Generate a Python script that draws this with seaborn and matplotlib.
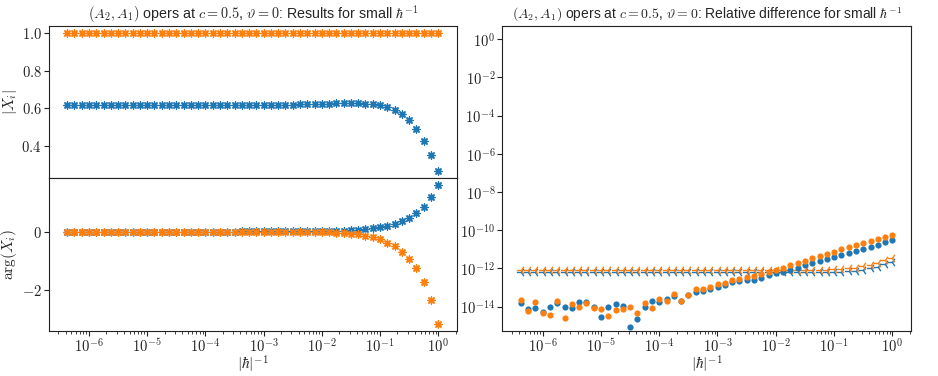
import numpy as np
import pandas as pd
import matplotlib
matplotlib.use("Agg")
import matplotlib.pyplot as plt
from matplotlib.ticker import FuncFormatter, MultipleLocator, NullFormatter
import seaborn as sns

# |hbar|^-1 sample points
hinv = [1.0, 0.75, 0.5625, 0.421875, 0.3164, 0.2373, 0.17798, 0.13348, 0.10011, 0.075085,
        0.056314, 0.042235, 0.031676, 0.023757, 0.017818, 0.013363, 0.010023, 0.0075169, 0.0056377, 0.0042283,
        0.0031712, 0.0023784, 0.0017838, 0.0013379, 0.0010034, 7.526e-4, 5.645e-4, 4.233e-4, 3.175e-4, 2.381e-4,
        1.786e-4, 1.339e-4, 1.0045e-4, 7.534e-5, 5.650e-5, 4.238e-5, 3.178e-5, 2.384e-5, 1.788e-5, 1.341e-5,
        1.0057e-5, 7.543e-6, 5.657e-6, 4.243e-6, 3.182e-6, 2.387e-6, 1.790e-6, 1.3425e-6, 1.0069e-6, 7.55e-7,
        5.66e-7, 4.25e-7]

# |X_i|
abs_x1 = [0.266, 0.351, 0.425, 0.487, 0.535, 0.569, 0.592, 0.607, 0.616, 0.621,
          0.624, 0.626, 0.626, 0.625, 0.625, 0.623, 0.623, 0.621, 0.621, 0.620,
          0.619, 0.619, 0.619, 0.618, 0.618, 0.618, 0.618, 0.618, 0.618, 0.618,
          0.618, 0.618, 0.618, 0.618, 0.618, 0.618, 0.618, 0.618, 0.618, 0.618,
          0.618, 0.618, 0.618, 0.618, 0.618, 0.618, 0.618, 0.618, 0.618, 0.618,
          0.618, 0.618]
abs_x2 = [1.0] * 52

# arg(X_i)
arg_x1 = [1.60, 1.18, 0.85, 0.625, 0.465, 0.35, 0.267, 0.198, 0.139, 0.104,
          0.083, 0.059, 0.040, 0.028, 0.020, 0.014, 0.010, 0.007, 0.005, 0.004,
          0.003, 0.002, 0.0015, 0.001, 0.0008, 0.0006, 0.0004, 0.0003, 0.0002, 0.0002,
          0.0001, 0.0001, 0.0, 0.0, 0.0, 0.0, 0.0, 0.0, 0.0, 0.0,
          0.0, 0.0, 0.0, 0.0, 0.0, 0.0, 0.0, 0.0, 0.0, 0.0,
          0.0, 0.0]
arg_x2 = [-3.18, -2.35, -1.74, -1.27, -0.94, -0.69, -0.50, -0.38, -0.26, -0.19,
          -0.14, -0.10, -0.07, -0.05, -0.035, -0.025, -0.018, -0.012, -0.009, -0.007,
          -0.005, -0.004, -0.003, -0.002, -0.0015, -0.001, -0.0008, -0.0006, -0.0004, -0.0003,
          -0.0002, -0.0002, -0.0001, -0.0001, 0.0, 0.0, 0.0, 0.0, 0.0, 0.0,
          0.0, 0.0, 0.0, 0.0, 0.0, 0.0, 0.0, 0.0, 0.0, 0.0,
          0.0, 0.0]

# relative differences (dots)
rel_x1 = [2.95e-11, 2.3e-11, 1.78e-11, 1.38e-11, 1.1e-11, 8.5e-12, 6.8e-12, 5.2e-12, 4.1e-12, 3.2e-12,
          2.5e-12, 1.9e-12, 1.45e-12, 1.07e-12, 8.1e-13, 6.9e-13, 5.5e-13, 4.4e-13, 3.2e-13, 2.6e-13,
          2.45e-13, 2.2e-13, 1.86e-13, 1.35e-13, 1.1e-13, 8.3e-14, 6.8e-14, 5.9e-14, 4.0e-14, 2.0e-14,
          3.7e-14, 2.5e-14, 1.74e-14, 2.0e-14, 1.0e-14, 2.3e-15, 9.1e-16, 1.12e-14, 1.45e-14, 1.0e-14,
          3.0e-15, 9.3e-15, 1.8e-14, 1.74e-14, 8.3e-15, 1.0e-14, 1.5e-14, 9.3e-15, 5.0e-15, 8.9e-15,
          7.6e-15, 1.62e-14]
rel_x2 = [5.9e-11, 4.6e-11, 3.5e-11, 2.7e-11, 2.1e-11, 1.6e-11, 1.26e-11, 1.0e-11, 7.6e-12, 5.9e-12,
          4.6e-12, 3.5e-12, 2.6e-12, 1.95e-12, 1.48e-12, 1.12e-12, 7.9e-13, 6.9e-13, 5.0e-13, 4.1e-13,
          3.4e-13, 2.75e-13, 2.45e-13, 1.78e-13, 1.48e-13, 1.02e-13, 8.1e-14, 8.1e-14, 4.1e-14, 2.0e-14,
          4.6e-14, 2.0e-14, 2.6e-14, 8.9e-15, 1.62e-14, 4.7e-15, 9.3e-15, 7.9e-15, 6.8e-15, 3.3e-15,
          7.9e-15, 8.3e-15, 1.62e-14, 9.5e-15, 1.45e-14, 2.7e-15, 2.0e-14, 3.5e-15, 4.9e-15, 1.8e-14,
          6.0e-15, 2.24e-14]

# second estimate (tri markers)
est_x1 = [2.2e-12, 1.62e-12, 1.25e-12, 1.0e-12, 8.6e-13, 7.7e-13, 7.1e-13, 6.8e-13, 6.6e-13, 6.5e-13,
          6.4e-13, 6.4e-13, 6.4e-13, 6.4e-13, 6.4e-13, 6.4e-13, 6.4e-13, 6.4e-13, 6.4e-13, 6.4e-13,
          6.4e-13, 6.4e-13, 6.4e-13, 6.4e-13, 6.4e-13, 6.4e-13, 6.4e-13, 6.4e-13, 6.4e-13, 6.4e-13,
          6.4e-13, 6.4e-13, 6.4e-13, 6.4e-13, 6.4e-13, 6.4e-13, 6.4e-13, 6.4e-13, 6.4e-13, 6.4e-13,
          6.4e-13, 6.4e-13, 6.4e-13, 6.4e-13, 6.4e-13, 6.4e-13, 6.4e-13, 6.4e-13, 6.4e-13, 6.4e-13,
          6.4e-13, 6.4e-13]
est_x2 = [3.7e-12, 2.7e-12, 2.0e-12, 1.55e-12, 1.3e-12, 1.12e-12, 1.0e-12, 9.4e-13, 9.0e-13, 8.7e-13,
          8.5e-13, 8.5e-13, 8.5e-13, 8.5e-13, 8.5e-13, 8.5e-13, 8.5e-13, 8.5e-13, 8.5e-13, 8.5e-13,
          8.5e-13, 8.5e-13, 8.5e-13, 8.5e-13, 8.5e-13, 8.5e-13, 8.5e-13, 8.5e-13, 8.5e-13, 8.5e-13,
          8.5e-13, 8.5e-13, 8.5e-13, 8.5e-13, 8.5e-13, 8.5e-13, 8.5e-13, 8.5e-13, 8.5e-13, 8.5e-13,
          8.5e-13, 8.5e-13, 8.5e-13, 8.5e-13, 8.5e-13, 8.5e-13, 8.5e-13, 8.5e-13, 8.5e-13, 8.5e-13,
          8.5e-13, 8.5e-13]

xticks = [1e-6, 1e-5, 1e-4, 1e-3, 1e-2, 1e-1, 1e0]
relticks = [1e0, 1e-2, 1e-4, 1e-6, 1e-8, 1e-10, 1e-12, 1e-14]

df = pd.DataFrame({"hinv": hinv, "abs1": abs_x1, "abs2": abs_x2, "arg1": arg_x1, "arg2": arg_x2,
                   "rel1": rel_x1, "rel2": rel_x2, "est1": est_x1, "est2": est_x2})

sns.set_style("ticks")
plt.rcParams["font.family"] = ["Liberation Sans", "DejaVu Sans"]
plt.rcParams["mathtext.fontset"] = "cm"
plt.rcParams["font.size"] = 11
plt.rcParams["xtick.labelsize"] = 10.5
plt.rcParams["ytick.labelsize"] = 10.5
plt.rcParams["xtick.major.pad"] = 1.0
plt.rcParams["ytick.major.pad"] = 1.5
plt.rcParams["axes.edgecolor"] = "#222222"
plt.rcParams["xtick.color"] = "#222222"
plt.rcParams["ytick.color"] = "#222222"

blue, orange = "#1f77b4", "#ff7f0e"
star = (8, 2, 0)

fig = plt.figure(figsize=(9.38, 3.76), dpi=100)
ax_abs = fig.add_axes([0.0519, 0.5266, 0.435, 0.4043])
ax_arg = fig.add_axes([0.0519, 0.1197, 0.435, 0.4069], sharex=ax_abs)
ax_rel = fig.add_axes([0.5355, 0.1197, 0.4357, 0.8112])

for ax, c1, c2 in [(ax_abs, "abs1", "abs2"), (ax_arg, "arg1", "arg2")]:
    sns.scatterplot(data=df, x="hinv", y=c1, ax=ax, marker=star, s=26, color=blue,
                    edgecolor=blue, linewidth=1.0)
    sns.scatterplot(data=df, x="hinv", y=c2, ax=ax, marker=star, s=26, color=orange,
                    edgecolor=orange, linewidth=1.0)

sns.scatterplot(data=df, x="hinv", y="est1", ax=ax_rel, marker="3", s=45, color=blue,
                edgecolor=blue, linewidth=1.0)
sns.scatterplot(data=df, x="hinv", y="est2", ax=ax_rel, marker="3", s=45, color=orange,
                edgecolor=orange, linewidth=1.0)
sns.scatterplot(data=df, x="hinv", y="rel1", ax=ax_rel, s=20, color=blue, linewidth=0)
sns.scatterplot(data=df, x="hinv", y="rel2", ax=ax_rel, s=20, color=orange, linewidth=0)

ax_abs.set_xscale("log")
ax_rel.set_xscale("log")
ax_rel.set_yscale("log")
ax_arg.set_xticks(xticks)
ax_rel.set_xticks(xticks)
ax_rel.set_yticks(relticks)
ax_rel.set_ylim(10 ** -15.27, 10 ** 0.69)
ax_abs.yaxis.set_major_locator(MultipleLocator(0.2))
ax_arg.yaxis.set_major_locator(MultipleLocator(2))

logfmt = FuncFormatter(lambda v, p: r"$10^{%d}$" % int(round(np.log10(v))))
ax_arg.xaxis.set_major_formatter(logfmt)
ax_rel.xaxis.set_major_formatter(logfmt)
ax_rel.yaxis.set_major_formatter(logfmt)
for ax in (ax_abs, ax_arg, ax_rel):
    ax.xaxis.set_minor_formatter(NullFormatter())
ax_rel.yaxis.set_minor_formatter(NullFormatter())
ax_abs.yaxis.set_major_formatter(FuncFormatter(lambda v, p: r"$%.1f$" % v))
ax_arg.yaxis.set_major_formatter(FuncFormatter(lambda v, p: r"$%d$" % int(round(v))))
ax_abs.tick_params(labelbottom=False)

ax_abs.set_xlabel("")
ax_abs.set_ylabel(r"$|X_i|$", labelpad=2)
ax_arg.set_ylabel(r"$\arg(X_i)$", labelpad=2)
ax_arg.set_xlabel(r"$|\hbar|^{-1}$", labelpad=-1)
ax_rel.set_ylabel("")
ax_rel.set_xlabel(r"$|\hbar|^{-1}$", labelpad=-1)

ax_abs.set_title(r"$(A_2, A_1)$ opers at $c = 0.5$, $\vartheta = 0$: Results for small $\hbar^{-1}$",
                 fontsize=10.3, pad=5)
ax_rel.set_title(r"$(A_2, A_1)$ opers at $c = 0.5$, $\vartheta = 0$: Relative difference for small $\hbar^{-1}$",
                 fontsize=10, pad=5)

fig.savefig("out.png", dpi=100)
